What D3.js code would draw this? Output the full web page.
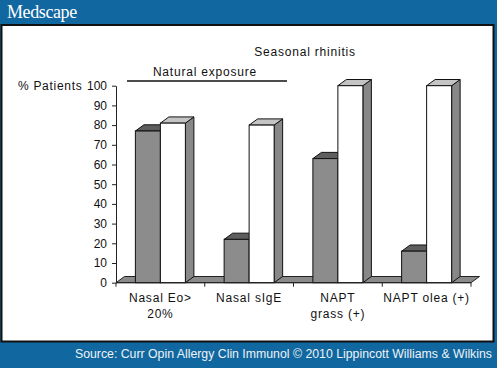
<!DOCTYPE html>
<html><head><meta charset="utf-8">
<script src="https://cdn.jsdelivr.net/npm/d3@7"></script>
<style>
html,body{margin:0;padding:0;background:#11679f;}
svg{display:block;}
text{font-family:"Liberation Sans",Arial,sans-serif;}
</style></head>
<body>
<svg id="c" width="497" height="368"></svg>
<script>
const categories = [["Nasal Eo>","20%"],["Nasal sIgE"],["NAPT","grass (+)"],["NAPT olea (+)"]];
const seriesNames = ["s1","s2"];
const grayValues = [77, 22, 63, 16];
const whiteValues = [81, 80, 100, 100];
const yTicks = [0,10,20,30,40,50,60,70,80,90,100];

const svg = d3.select("#c");
// background
svg.append("rect").attr("x",0).attr("y",0).attr("width",497).attr("height",368).attr("fill","#11679f");
svg.append("rect").attr("x",1.5).attr("y",25).attr("width",492).attr("height",316.5)
  .attr("fill","#fff").attr("stroke","#111").attr("stroke-width",2);
svg.append("text").attr("x",7).attr("y",17.5).text("Medscape")
  .style("font-family","'Liberation Serif','DejaVu Serif',serif").style("font-size","18px")
  .attr("fill","#fff").style("letter-spacing","-0.4px");
svg.append("text").attr("x",492).attr("y",358).attr("text-anchor","end")
  .text("Source: Curr Opin Allergy Clin Immunol \u00A9 2010 Lippincott Williams & Wilkins")
  .style("font-size","12.3px").attr("fill","#eef3f8");

const keys = categories.map(c=>c.join(" "));
const x = d3.scaleBand().domain(keys).range([116,471]).paddingInner(0).paddingOuter(0);
const x1 = d3.scaleBand().domain(seriesNames).range([0,x.bandwidth()]).paddingInner(0).paddingOuter(0.775);
const y = d3.scaleLinear().domain([0,100]).range([282.7,85.7]);
const dx = 8.5, dy = 6.2;
const y0 = y(0);

const g = svg.append("g");
// floor
const [fx0,fx1] = x.range();
g.append("polygon")
  .attr("points",[[fx0,y0],[fx1,y0],[fx1+dx,y0-dy],[fx0+dx,y0-dy]].map(p=>p.join(",")).join(" "))
  .attr("fill","#8a8a8a").attr("stroke","#222").attr("stroke-width",1);

function bar(xl, w, v, front, top, side){
  const yt = y(v);
  const gg = g.append("g");
  gg.append("polygon").attr("points",[[xl+w,y0],[xl+w+dx,y0-dy],[xl+w+dx,yt-dy],[xl+w,yt]].map(p=>p.join(",")).join(" "))
    .attr("fill",side).attr("stroke","#111").attr("stroke-width",1).attr("stroke-linejoin","round");
  gg.append("polygon").attr("points",[[xl,yt],[xl+dx,yt-dy],[xl+w+dx,yt-dy],[xl+w,yt]].map(p=>p.join(",")).join(" "))
    .attr("fill",top).attr("stroke","#111").attr("stroke-width",1).attr("stroke-linejoin","round");
  gg.append("rect").attr("x",xl).attr("y",yt).attr("width",w).attr("height",y0-yt)
    .attr("fill",front).attr("stroke","#111").attr("stroke-width",1);
}
keys.forEach((k,i)=>{
  const bx = x(k);
  bar(bx + x1("s1"), x1.bandwidth(), grayValues[i], "#8c8c8c", "#5e5e5e", "#7a7a7a");
  bar(bx + x1("s2"), x1.bandwidth(), whiteValues[i], "#ffffff", "#c4c4c4", "#888888");
});

// y axis
const ya = svg.append("g").attr("transform","translate(116,0)")
  .call(d3.axisLeft(y).tickValues(yTicks).tickSize(4).tickSizeOuter(0).tickPadding(5));
ya.selectAll("path,line").attr("stroke","#222");
ya.selectAll("text").style("font-size","12px").style("font-family","'Liberation Sans',Arial,sans-serif").attr("fill","#111");

// x axis line and boundary ticks
const xa = svg.append("g");
xa.append("line").attr("x1",fx0).attr("x2",fx1).attr("y1",y0).attr("y2",y0).attr("stroke","#222");
const bounds = keys.map(k=>x(k)).concat([fx1]);
xa.selectAll("line.t").data(bounds).join("line").attr("class","t")
  .attr("x1",d=>d).attr("x2",d=>d).attr("y1",y0).attr("y2",y0+4).attr("stroke","#222");
categories.forEach((lines,i)=>{
  const cx = x(keys[i]) + x.bandwidth()/2;
  lines.forEach((t,j)=>{
    xa.append("text").attr("x",cx).attr("y",301.5+j*16.5).attr("text-anchor","middle")
      .style("font-size","12px").style("letter-spacing","0.8px").attr("fill","#111").text(t);
  });
});

// annotations
svg.append("text").attr("x",18).attr("y",90).text("% Patients")
  .style("font-size","12px").style("letter-spacing","0.7px").attr("fill","#111");
svg.append("text").attr("x",305).attr("y",55.5).attr("text-anchor","middle").text("Seasonal rhinitis")
  .style("font-size","12px").style("letter-spacing","0.8px").attr("fill","#111");
svg.append("text").attr("x",205).attr("y",75.5).attr("text-anchor","middle").text("Natural exposure")
  .style("font-size","12px").style("letter-spacing","0.8px").attr("fill","#111");
svg.append("line").attr("x1",127).attr("x2",287).attr("y1",81).attr("y2",81).attr("stroke","#111").attr("stroke-width",1.3);
</script>
</body></html>
